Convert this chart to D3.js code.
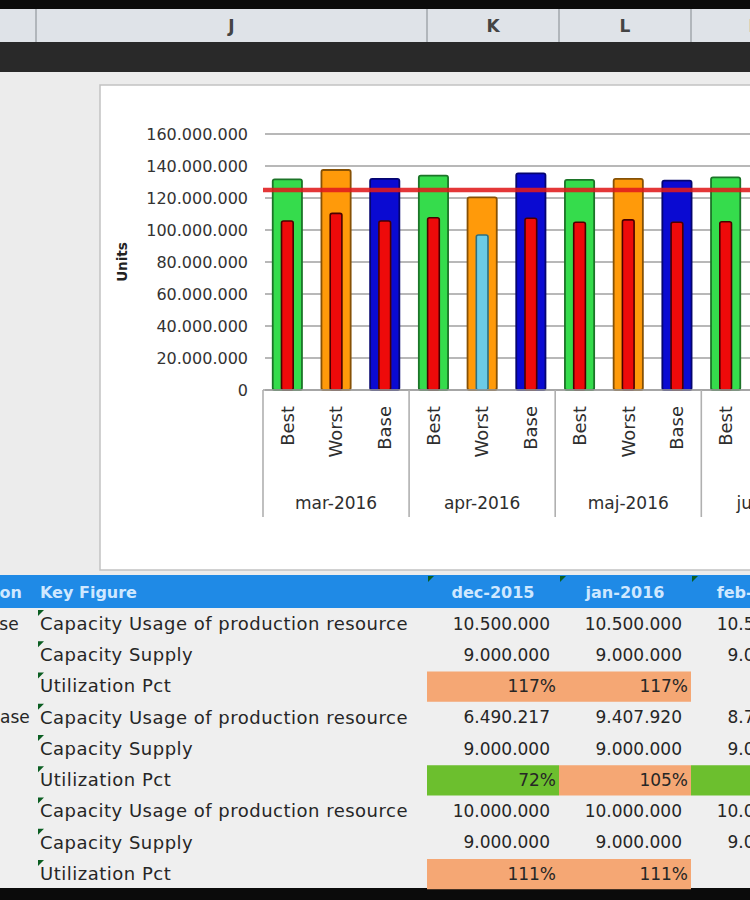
<!DOCTYPE html>
<html>
<head>
<meta charset="utf-8">
<script src="https://cdn.jsdelivr.net/npm/d3@7"></script>
<style>
  body { margin: 0; background: #fff; }
  svg { display: block; font-family: "DejaVu Sans", sans-serif; }
</style>
</head>
<body>
<svg id="sheet"></svg>
<script>
// ---- chart data (units) ----
var months = ["mar-2016", "apr-2016", "maj-2016", "jun-2016"];
var scenarios = ["Best", "Worst", "Base"];

// outer bars
var supplyBest  = [131700000, 134000000, 131300000, 132900000];
var supplyWorst = [137500000, 120400000, 131900000, null];
var supplyBase  = [131900000, 135400000, 130800000, null];
// inner bars
var usageBest  = [105600000, 107700000, 104800000, 105200000];
var usageWorst = [110400000, 96900000, 106300000, null];
var usageBase  = [105600000, 107300000, 104800000, null];

var targetLine = 125000000;
var yTicks = [0, 20000000, 40000000, 60000000, 80000000, 100000000, 120000000, 140000000, 160000000];

// ---- table data ----
var sheetColumns = ["J", "K", "L", "M"];
var tableColumns = ["dec-2015", "jan-2016", "feb-2016"];
var versions = ["Best Case", "Worst Case", "Base"];
var keyFigures = ["Capacity Usage of production resource", "Capacity Supply", "Utilization Pct"];
var usageRows  = [[10500000, 10500000, 10500000], [6490217, 9407920, 8745300], [10000000, 10000000, 10000000]];
var supplyRows = [[9000000, 9000000, 9000000], [9000000, 9000000, 9000000], [9000000, 9000000, 9000000]];
var utilRows   = [[117, 117, null], [72, 105, 97], [111, 111, null]];

var W = 750, H = 900;
var svg = d3.select("svg#sheet").attr("width", W).attr("height", H);

var loc = d3.formatLocale({ decimal: ",", thousands: ".", grouping: [3], currency: ["", ""] });
var fmt = loc.format(",.0f");

// ---- spreadsheet chrome ----
svg.append("rect").attr("x", 0).attr("y", 0).attr("width", W).attr("height", H).attr("fill", "#ececec");
svg.append("rect").attr("x", 0).attr("y", 0).attr("width", W).attr("height", 9).attr("fill", "#0b0b0b");
svg.append("rect").attr("x", 0).attr("y", 9).attr("width", W).attr("height", 33).attr("fill", "#dfe3e8");
svg.append("rect").attr("x", 0).attr("y", 42).attr("width", W).attr("height", 30).attr("fill", "#292929");

var colEdges = [36, 427, 559, 691, 823];
svg.selectAll("line.colsep")
    .data(colEdges)
    .enter().append("line")
    .attr("class", "colsep")
    .attr("x1", function(d) { return d; }).attr("x2", function(d) { return d; })
    .attr("y1", 9).attr("y2", 42)
    .attr("stroke", "#a2a7ad").attr("stroke-width", 1.5);

svg.selectAll("text.colname")
    .data(sheetColumns)
    .enter().append("text")
    .attr("class", "colname")
    .attr("x", function(d, i) { return (colEdges[i] + colEdges[i + 1]) / 2; })
    .attr("y", 26)
    .attr("dy", "0.35em")
    .attr("text-anchor", "middle")
    .attr("font-size", 17)
    .attr("font-weight", "bold")
    .attr("fill", "#444")
    .text(function(d) { return d; });

// ---- chart ----
svg.append("rect").attr("x", 100).attr("y", 85).attr("width", 700).attr("height", 485)
    .attr("fill", "#fff").attr("stroke", "#c2c2c2").attr("stroke-width", 1.5);

var cats = [];
months.forEach(function(m) { scenarios.forEach(function(s) { cats.push(m + "|" + s); }); });

var x = d3.scaleBand()
    .domain(cats)
    .range([263, 263 + 12 * 48.7])
    .paddingInner(0.4)
    .paddingOuter(0.2);

var y = d3.scaleLinear()
    .domain([0, 160000000])
    .range([390, 134]);

var supplyBy = { Best: supplyBest, Worst: supplyWorst, Base: supplyBase };
var usageBy = { Best: usageBest, Worst: usageWorst, Base: usageBase };
var scenColor = { Best: "#35dc4c", Worst: "#ff9a0a", Base: "#0a0ad2" };

var bars = [];
months.forEach(function(m, i) {
    scenarios.forEach(function(s) {
        if (supplyBy[s][i] != null) {
            bars.push({ cat: m + "|" + s, scen: s, supply: supplyBy[s][i], usage: usageBy[s][i] });
        }
    });
});

var chart = svg.append("g");

// gridlines
chart.selectAll("line.grid")
    .data(yTicks)
    .enter().append("line")
    .attr("class", "grid")
    .attr("x1", 265).attr("x2", W)
    .attr("y1", function(d) { return y(d); }).attr("y2", function(d) { return y(d); })
    .attr("stroke", "#a0a0a0").attr("stroke-width", 1.7);

// y labels
chart.selectAll("text.ytick")
    .data(yTicks)
    .enter().append("text")
    .attr("class", "ytick")
    .attr("x", 248)
    .attr("y", function(d) { return y(d); })
    .attr("dy", "0.35em")
    .attr("text-anchor", "end")
    .attr("font-size", 16)
    .attr("fill", "#333")
    .text(function(d) { return fmt(d); });

chart.append("text")
    .attr("transform", "translate(122," + y(80000000) + ") rotate(-90)")
    .attr("dy", "0.35em")
    .attr("text-anchor", "middle")
    .attr("font-size", 13.5)
    .attr("font-weight", "bold")
    .attr("fill", "#222")
    .text("Units");

// outer bars
chart.selectAll("rect.outer")
    .data(bars)
    .enter().append("rect")
    .attr("class", "outer")
    .attr("x", function(d) { return x(d.cat); })
    .attr("y", function(d) { return y(d.supply); })
    .attr("width", x.bandwidth())
    .attr("height", function(d) { return y(0) - y(d.supply); })
    .attr("rx", 2)
    .attr("fill", function(d) { return scenColor[d.scen]; })
    .attr("stroke", function(d) { return d3.color(scenColor[d.scen]).darker(1.8); })
    .attr("stroke-width", 1.8);

// inner bars
var innerW = x.bandwidth() * 0.4;
chart.selectAll("rect.inner")
    .data(bars)
    .enter().append("rect")
    .attr("class", "inner")
    .attr("x", function(d) { return x(d.cat) + (x.bandwidth() - innerW) / 2; })
    .attr("y", function(d) { return y(d.usage); })
    .attr("width", innerW)
    .attr("height", function(d) { return y(0) - y(d.usage); })
    .attr("rx", 2)
    .attr("fill", function(d) { return d.usage < 100000000 ? "#6ccbe6" : "#ee0a0a"; })
    .attr("stroke", function(d) { return d.usage < 100000000 ? "#2c6f80" : "#4a0000"; })
    .attr("stroke-width", 1.6);

// target line
chart.append("line")
    .attr("x1", 263).attr("x2", W)
    .attr("y1", y(targetLine)).attr("y2", y(targetLine))
    .attr("stroke", "#e01a1c").attr("stroke-opacity", 0.88).attr("stroke-width", 4.5);

// x axis
chart.append("line")
    .attr("x1", 263).attr("x2", W)
    .attr("y1", y(0)).attr("y2", y(0))
    .attr("stroke", "#a0a0a0").attr("stroke-width", 1.7);

var groupW = x.step() * 3;
chart.selectAll("line.sep")
    .data(months)
    .enter().append("line")
    .attr("class", "sep")
    .attr("x1", function(d) { return x(d + "|Best") - x.step() * x.paddingOuter(); })
    .attr("x2", function(d) { return x(d + "|Best") - x.step() * x.paddingOuter(); })
    .attr("y1", y(0)).attr("y2", 517)
    .attr("stroke", "#b0b0b0").attr("stroke-width", 1.6);

// scenario labels (only where a bar is shown)
chart.selectAll("text.cat")
    .data(bars)
    .enter().append("text")
    .attr("class", "cat")
    .attr("transform", function(d) { return "translate(" + (x(d.cat) + x.bandwidth() / 2) + ",406) rotate(-90)"; })
    .attr("dy", "0.35em")
    .attr("text-anchor", "end")
    .attr("font-size", 18)
    .attr("fill", "#2e2e2e")
    .text(function(d) { return d.scen; });

chart.selectAll("text.month")
    .data(months)
    .enter().append("text")
    .attr("class", "month")
    .attr("x", function(d) { return x(d + "|Best") - x.step() * x.paddingOuter() + groupW / 2; })
    .attr("y", 503)
    .attr("dy", "0.35em")
    .attr("text-anchor", "middle")
    .attr("font-size", 17)
    .attr("fill", "#2e2e2e")
    .text(function(d) { return d; });

// ---- table ----
var rowTop = 608, rowH = 31.25;
svg.append("rect").attr("x", 0).attr("y", 575).attr("width", W).attr("height", 33).attr("fill", "#1f8ae6");
svg.append("rect").attr("x", 0).attr("y", rowTop).attr("width", W).attr("height", 9 * rowH).attr("fill", "#efefef");
svg.append("rect").attr("x", 0).attr("y", 888).attr("width", W).attr("height", 12).attr("fill", "#0b0b0b");

var head = svg.append("g").attr("font-size", 16).attr("font-weight", "bold").attr("fill", "#cfe8ff");
head.append("text").attr("x", 22).attr("y", 592).attr("dy", "0.35em").attr("text-anchor", "end").text("Version");
head.append("text").attr("x", 40).attr("y", 592).attr("dy", "0.35em").text("Key Figure");
head.selectAll("text.th")
    .data(tableColumns)
    .enter().append("text")
    .attr("class", "th")
    .attr("x", function(d, i) { return (colEdges[i + 1] + colEdges[i + 2]) / 2; })
    .attr("y", 592)
    .attr("dy", "0.35em")
    .attr("text-anchor", "middle")
    .text(function(d) { return d; });

// comment markers in header
svg.selectAll("path.hmark")
    .data(tableColumns)
    .enter().append("path")
    .attr("class", "hmark")
    .attr("d", function(d, i) { var x0 = colEdges[i + 1] + 1; return "M" + x0 + ",576L" + (x0 + 6) + ",576L" + x0 + ",582Z"; })
    .attr("fill", "#0b5e22");

var clipI = svg.append("clipPath").attr("id", "colI");
clipI.append("rect").attr("x", 0).attr("y", 560).attr("width", 35).attr("height", 340);

var cells = [];
versions.forEach(function(v, vi) {
    keyFigures.forEach(function(k, ki) {
        var r = vi * 3 + ki;
        var vals = ki === 0 ? usageRows[vi] : ki === 1 ? supplyRows[vi] : utilRows[vi];
        vals.forEach(function(val, ci) {
            cells.push({ row: r, col: ci, value: val, pct: ki === 2 });
        });
    });
});

// fills for utilization
svg.selectAll("rect.cellfill")
    .data(cells.filter(function(c) { return c.pct && c.value != null; }))
    .enter().append("rect")
    .attr("class", "cellfill")
    .attr("x", function(d) { return colEdges[d.col + 1]; })
    .attr("y", function(d) { return rowTop + d.row * rowH + 1; })
    .attr("width", function(d) { return colEdges[d.col + 2] - colEdges[d.col + 1]; })
    .attr("height", rowH - 1)
    .attr("fill", function(d) { return d.value > 100 ? "#f5a774" : "#6cbf2e"; });

var body = svg.append("g").attr("fill", "#262626");

body.selectAll("text.ver")
    .data(versions)
    .enter().append("text")
    .attr("class", "ver")
    .attr("clip-path", "url(#colI)")
    .attr("x", -66)
    .attr("y", function(d, i) { return rowTop + i * 3 * rowH + rowH / 2; })
    .attr("dy", "0.35em")
    .attr("font-size", 17)
    .text(function(d) { return d; });

var kfRows = [];
versions.forEach(function() { keyFigures.forEach(function(k) { kfRows.push(k); }); });

body.selectAll("text.kf")
    .data(kfRows)
    .enter().append("text")
    .attr("class", "kf")
    .attr("x", 40)
    .attr("y", function(d, i) { return rowTop + i * rowH + rowH / 2; })
    .attr("dy", "0.35em")
    .attr("font-size", 18)
    .attr("letter-spacing", 0.5)
    .text(function(d) { return d; });

svg.selectAll("path.mark")
    .data(kfRows)
    .enter().append("path")
    .attr("class", "mark")
    .attr("d", function(d, i) { var y0 = rowTop + i * rowH + 2; return "M38," + y0 + "L44," + y0 + "L38," + (y0 + 6) + "Z"; })
    .attr("fill", "#0b5e22");

body.selectAll("text.val")
    .data(cells.filter(function(c) { return c.value != null; }))
    .enter().append("text")
    .attr("class", "val")
    .attr("x", function(d) { return colEdges[d.col + 2] - (d.pct ? 3 : 9); })
    .attr("y", function(d) { return rowTop + d.row * rowH + rowH / 2; })
    .attr("dy", "0.35em")
    .attr("text-anchor", "end")
    .attr("font-size", 17)
    .text(function(d) { return d.pct ? d.value + "%" : fmt(d.value); });
</script>
</body>
</html>
